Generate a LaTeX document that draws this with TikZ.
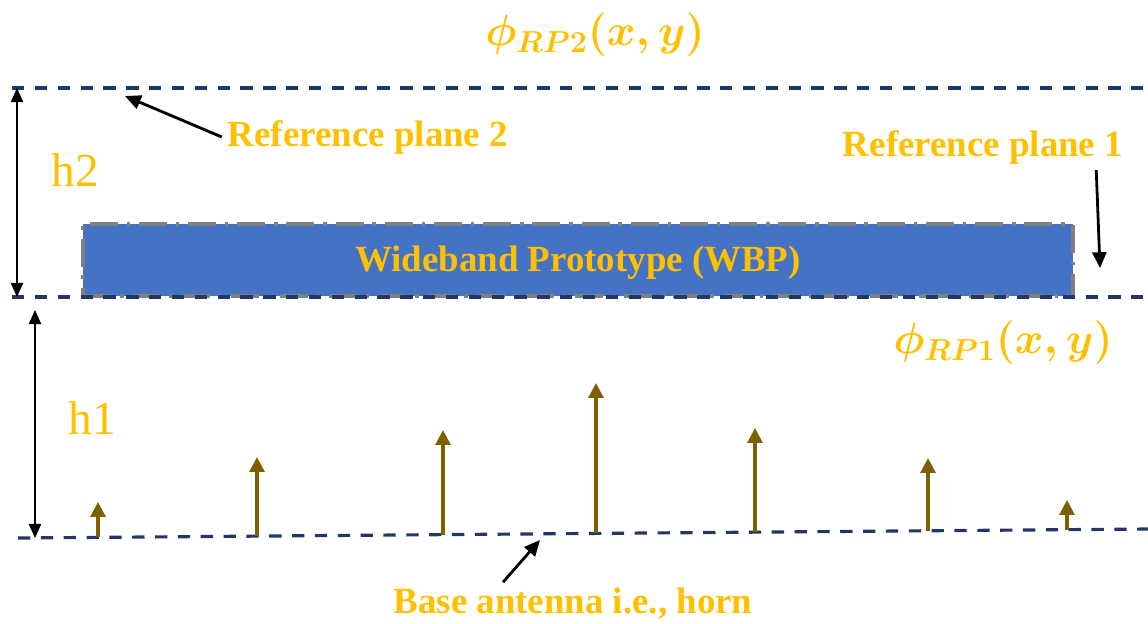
\documentclass[tikz,border=0pt]{standalone}
\usepackage{fontspec}
\setmainfont{Liberation Serif}
\usetikzlibrary{arrows.meta}
\definecolor{gold}{HTML}{FFC000}
\definecolor{planeblue}{HTML}{203864}
\definecolor{hornbrown}{HTML}{7F6000}
\definecolor{wbpblue}{HTML}{4472C4}
\begin{document}
\begin{tikzpicture}[x=0.02cm,y=-0.02cm, line join=round,
	plane/.style={planeblue, line width=1.8pt, dash pattern=on 7pt off 6pt},
	dim/.style={black, line width=0.8pt, {Triangle[width=7pt,length=8pt]}-{Triangle[width=7pt,length=8pt]}},
	callout/.style={black, line width=1.6pt, -{Triangle[width=8pt,length=9pt]}},
	ray/.style={hornbrown, line width=1.8pt, -{Triangle[width=8.5pt,length=8.5pt]}},
	lbl/.style={gold, font=\fontsize{21}{25}\selectfont\bfseries},
	hlbl/.style={gold, font=\fontsize{27}{32}\selectfont},
	phase/.style={gold, font=\fontsize{25}{30}\selectfont\boldmath}]
	\useasboundingbox (0,0) rectangle (1148,623);
	\path
	(12,88)coordinate(T1) (1148,88)coordinate(T2)
	(12,297)coordinate(M1) (1148,297)coordinate(M2)
	(18,538)coordinate(B1) (1148,529)coordinate(B2)
	(17,88)coordinate(H2a) (17,297)coordinate(H2b)
	(35,310)coordinate(H1a) (35,538)coordinate(H1b)
	(125,96)coordinate(RP2tip) (1100,268)coordinate(RP1tip) (540,540)coordinate(Htip)
	;
	% prototype slab
	\node[draw=gray, fill=wbpblue, line width=2pt, dash pattern=on 16pt off 5pt on 2pt off 5pt,
	minimum width=19.8cm, minimum height=1.44cm, inner sep=0pt] (WBP) at (578,260) {};
	\node[lbl] at (578,263) {Wideband Prototype (WBP)};
	% reference planes
	\draw[plane] (T1)--(T2);
	\draw[plane] (M1)--(M2);
	\draw[plane] (B1)--(B2);
	\draw[dim] (H2a)--(H2b);
	\draw[dim] (H1a)--(H1b);
	\node[hlbl] (h2) at (75,170) {h2};
	\node[hlbl] (h1) at (92,418) {h1};
	% labels
	\node[phase] (phi2) at (595,35) {$\phi_{RP2}(x,y)$};
	\node[phase] (phi1) at (1003,343) {$\phi_{RP1}(x,y)$};
	\node[lbl] (ref2) at (368,137) {Reference plane 2};
	\node[lbl] (ref1) at (983,147) {Reference plane 1};
	\node[lbl] (base) at (573,604) {Base antenna i.e., horn};
	\draw[callout] (ref2.west)--(RP2tip);
	\draw[callout] ([xshift=-0.66cm]ref1.south east)--(RP1tip);
	\draw[callout] ([xshift=-1.4cm]base.north)--(Htip);
	% horn field
	\foreach \x/\b/\t in {98/537/502,257/536/457,443/535/430,596/533/383,755/532/428,928/531/458,1067/530/500}
	{\path (\x,\b)coordinate(a\x) (\x,\t)coordinate(e\x); \draw[ray](a\x)--(e\x);}
\end{tikzpicture}
\end{document}
